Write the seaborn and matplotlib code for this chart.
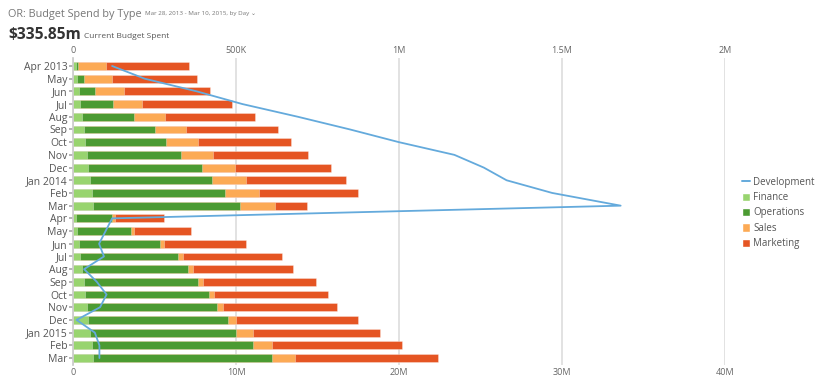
import matplotlib
matplotlib.use("Agg")
import matplotlib.pyplot as plt
from matplotlib.lines import Line2D
from matplotlib.patches import Patch
import numpy as np
import pandas as pd
import seaborn as sns

sns.set_theme(style="white")
plt.rcParams['font.family'] = ['Open Sans', 'DejaVu Sans']

# month labels (two fiscal years)
months = ["Apr 2013", "May", "Jun", "Jul", "Aug", "Sep", "Oct", "Nov", "Dec",
          "Jan 2014", "Feb", "Mar",
          "Apr", "May", "Jun", "Jul", "Aug", "Sep", "Oct", "Nov", "Dec",
          "Jan 2015", "Feb", "Mar"]

# spend per type, in millions
finance = [0.16, 0.22, 0.35, 0.45, 0.55, 0.65, 0.76, 0.84, 0.94, 1.04, 1.15, 1.25,
           0.16, 0.25, 0.35, 0.45, 0.55, 0.65, 0.76, 0.84, 0.94, 1.04, 1.15, 1.25]
operations = [0.17, 0.48, 1.00, 1.98, 3.17, 4.38, 4.97, 5.79, 6.99, 7.49, 8.20, 8.97,
              2.25, 3.29, 4.99, 5.99, 6.51, 7.00, 7.58, 7.99, 8.59, 8.98, 9.87, 10.98]
sales = [1.67, 1.71, 1.80, 1.82, 1.92, 1.90, 1.94, 1.96, 2.01, 2.06, 2.06, 2.17,
         0.17, 0.22, 0.26, 0.29, 0.30, 0.30, 0.33, 0.35, 0.47, 1.00, 1.21, 1.39]
marketing = [5.12, 5.20, 5.25, 5.50, 5.53, 5.63, 5.70, 5.83, 5.87, 6.16, 6.05, 1.97,
             3.02, 3.50, 4.99, 6.09, 6.16, 6.98, 6.99, 7.02, 7.46, 7.79, 7.97, 8.75]
# development on its own (top) scale, in millions
development = [0.12, 0.22, 0.38, 0.52, 0.69, 0.85, 1.00, 1.17, 1.26, 1.33, 1.47, 1.68,
               0.12, 0.10, 0.08, 0.095, 0.034, 0.073, 0.103, 0.083, 0.011, 0.067, 0.081, 0.081]

types = ["Finance", "Operations", "Sales", "Marketing"]
colors = {"Finance": "#98d46f", "Operations": "#4b9b32",
          "Sales": "#fcaa55", "Marketing": "#e55523"}
line_color = "#64aadc"

df = pd.DataFrame({"row": np.arange(len(months)), "Finance": finance,
                   "Operations": operations, "Sales": sales, "Marketing": marketing})
cum = df[types].cumsum(axis=1)
cum["row"] = df["row"]

fig = plt.figure(figsize=(8.2, 3.86), dpi=100)
ax = fig.add_axes([73 / 820, 1 - 365 / 386, 652 / 820, 307 / 386])

# stacked bars: draw the cumulative totals from the outermost segment inward
for t in types[::-1]:
    sns.barplot(data=cum, x=t, y="row", orient="h", color=colors[t],
                width=0.62, saturation=1, linewidth=0.6,
                edgecolor=(1, 1, 1, 0.35), ax=ax)

ax.set_xlim(0, 40)
ax.set_ylim(23.55, -0.63)
ax.set_xticks([0, 10, 20, 30, 40])
ax.set_xticklabels(["0", "10M", "20M", "30M", "40M"])
ax.set_yticks(np.arange(len(months)))
ax.set_yticklabels(months)
ax.set_xlabel("")
ax.set_ylabel("")
ax.grid(axis="x", color="#dddddd", linewidth=1.2)
ax.set_axisbelow(True)
for s in ["top", "right", "bottom"]:
    ax.spines[s].set_visible(False)
ax.spines["left"].set_color("#cccccc")
ax.tick_params(axis="y", left=True, length=3, color="#aaaaaa",
               labelsize=7.5, labelcolor="#555555", pad=1)
ax.tick_params(axis="x", bottom=False, length=0, labelsize=6.5,
               labelcolor="#666666", pad=2)

# development line on the top axis
ax2 = ax.twiny()
sns.lineplot(x=development, y=np.arange(len(months)), sort=False, estimator=None,
             orient="y", color=line_color, linewidth=1.3, ax=ax2)
ax2.set_xlim(0, 2)
ax2.set_ylim(23.55, -0.63)
ax2.set_xticks([0, 0.5, 1, 1.5, 2])
ax2.set_xticklabels(["0", "500K", "1M", "1.5M", "2M"])
ax2.tick_params(axis="x", top=False, length=0, labelsize=6.5,
                labelcolor="#666666", pad=2)
for s in ax2.spines.values():
    s.set_visible(False)

handles = [Line2D([0], [0], color=line_color, lw=1.4, label="Development")]
handles += [Patch(facecolor=colors[t], label=t) for t in types]
fig.legend(handles=handles, loc="upper left", bbox_to_anchor=(733 / 820, 1 - 168 / 386),
           frameon=False, fontsize=7, labelcolor="#555555", handlelength=0.8,
           handleheight=0.9, handletextpad=0.4, labelspacing=0.45)

# header texts
fig.text(8 / 820, 1 - 14 / 386, "OR: Budget Spend by Type", fontsize=7.8,
         color="#777777", va="center")
fig.text(145 / 820, 1 - 14 / 386, "Mar 28, 2013 - Mar 10, 2015, by Day \u2304",
         fontsize=4.5, color="#777777", va="center")
fig.text(8 / 820, 1 - 35 / 386, "$335.85m", fontsize=11.2, fontweight="bold",
         color="#333333", va="center")
fig.text(84 / 820, 1 - 36 / 386, "Current Budget Spent", fontsize=6,
         color="#555555", va="center")

fig.savefig("out.png", dpi=100)
